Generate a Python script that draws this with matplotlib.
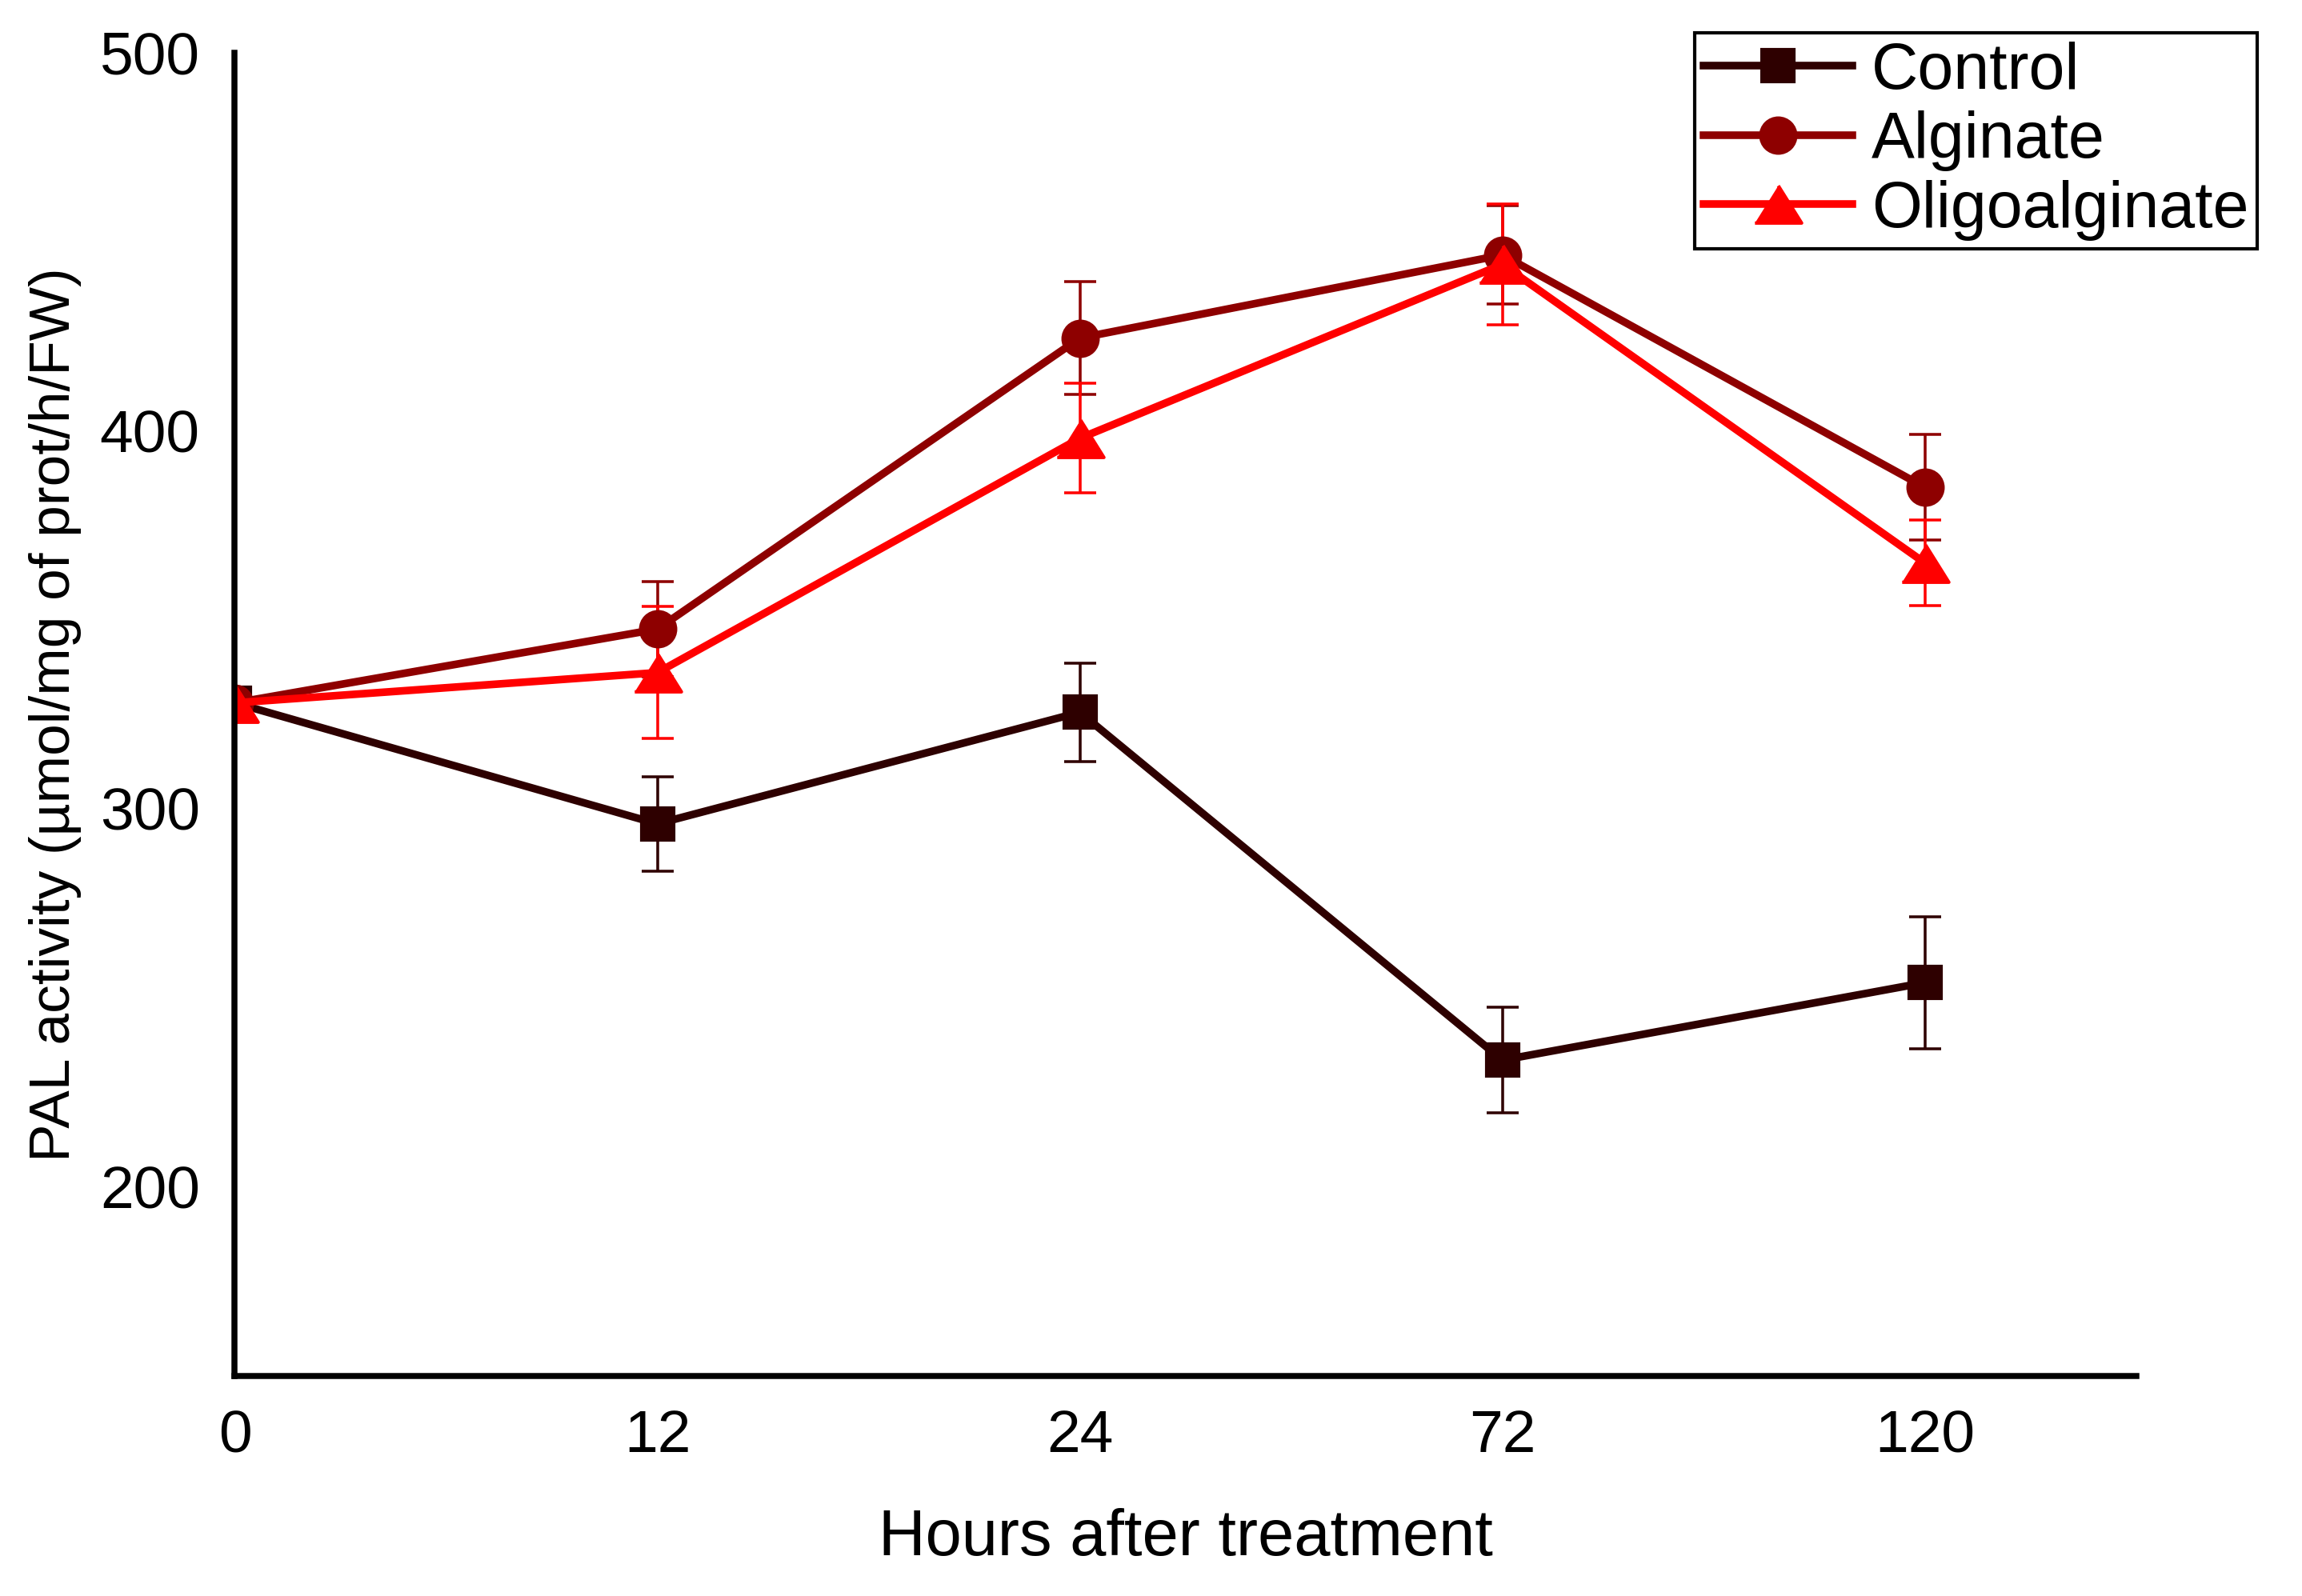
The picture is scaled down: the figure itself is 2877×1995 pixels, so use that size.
import matplotlib
matplotlib.use("Agg")
import matplotlib.pyplot as plt
from matplotlib.lines import Line2D
import numpy as np

plt.rcParams['font.family'] = ['Liberation Sans', 'DejaVu Sans']

hours = ['0', '12', '24', '72', '120']
control = [328, 296, 325.5, 233.5, 254]
control_err = [4, 12.5, 13, 14, 17.5]
alginate = [328, 347.5, 424.5, 446.5, 385]
alginate_err = [4, 12.6, 15, 13, 14]
oligo = [328, 336, 398, 444, 365]
oligo_err = [4, 17.5, 14.5, 16, 11.3]

tri = [(-1, -0.8), (1, -0.8), (0, 0.8)]
series = [
    ('Control', control, control_err, '#2e0000', 's', 9.4),
    ('Alginate', alginate, alginate_err, '#8e0000', 'o', 10.5),
    ('Oligoalginate', oligo, oligo_err, '#ff0000', tri, 14.0),
]

fig = plt.figure(figsize=(2877/300, 1995/300), dpi=300)
ax = fig.add_axes([0.102, 0.138, 0.826, 0.829])

x = np.arange(len(hours))
handles = []
for name, vals, err, col, mk, ms in series:
    ax.errorbar(x, vals, yerr=err, color=col, lw=2.3, marker=mk, ms=ms,
                mec=col, mfc=col, capsize=4.7, elinewidth=0.85, capthick=0.85)
    handles.append(Line2D([], [], color=col, lw=2.3, marker=mk, ms=ms,
                          mec=col, mfc=col, label=name))

ax.set_xlim(0, 4.5)
ax.set_ylim(150, 500)
ax.set_yticks([200, 300, 400, 500])
ax.set_xticks(x)
ax.set_xticklabels(hours)
ax.tick_params(axis='both', length=0, labelsize=18)
ax.tick_params(axis='x', pad=10)
ax.tick_params(axis='y', pad=10.5)
for s in ['top', 'right']:
    ax.spines[s].set_visible(False)
for s in ['left', 'bottom']:
    ax.spines[s].set_linewidth(1.8)
    ax.spines[s].set_color('black')

ax.set_xlabel('Hours after treatment', fontsize=19.5, labelpad=13)
ax.set_ylabel('PAL activity (µmol/mg of prot/h/FW)', fontsize=17.1, labelpad=5.5)

leg = fig.legend(handles=handles, loc='upper right', bbox_to_anchor=(0.9805, 0.9794),
                 bbox_transform=fig.transFigure, fontsize=19.4, frameon=True,
                 fancybox=False, edgecolor='black', framealpha=1,
                 handlelength=2.3, handletextpad=0.3, labelspacing=0.13,
                 borderpad=0.13, borderaxespad=0)
leg.get_frame().set_linewidth(1.0)

fig.savefig('out.png', dpi=300)
